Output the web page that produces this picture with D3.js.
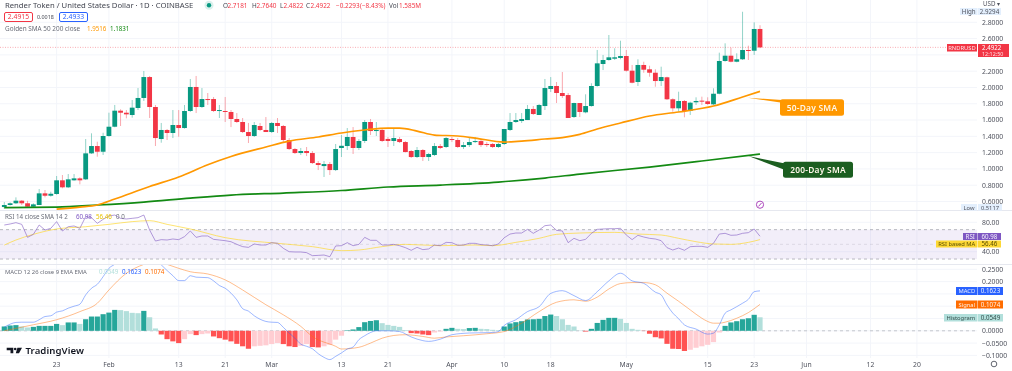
<!DOCTYPE html>
<html>
<head>
<meta charset="utf-8">
<title>RNDRUSD</title>
<script src="https://cdn.jsdelivr.net/npm/d3@7"></script>
<style>
  html, body { margin: 0; padding: 0; background: #fff; overflow: hidden; }
  svg { display: block; filter: blur(0.55px); }
  text { font-family: "Noto Sans", sans-serif; }
</style>
</head>
<body>
<svg id="chart" width="1012" height="371"></svg>
<script>
"use strict";

// daily candles, day 0 = Jan 14
const opens = [
  .532,.557,.578,.610,.578,.536,.557,.700,.671,.692,
  .860,.774,.860,.884,.872,1.191,1.281,1.211,1.404,1.518,
  1.715,1.690,1.662,1.748,1.871,2.128,1.760,1.367,1.478,1.441,
  1.539,1.502,1.711,2.006,1.760,1.858,1.858,1.711,1.711,1.699,
  1.613,1.576,1.453,1.404,1.527,1.478,1.453,1.564,1.527,1.355,
  1.244,1.195,1.220,1.195,1.072,1.035,1.060,.986,1.257,1.281,
  1.392,1.257,1.343,1.576,1.465,1.478,1.368,1.343,1.367,1.330,
  1.220,1.146,1.232,1.146,1.171,1.281,1.269,1.367,1.355,1.269,
  1.293,1.330,1.342,1.306,1.306,1.269,1.306,1.478,1.576,1.588,
  1.600,1.736,1.662,1.772,1.981,2.018,1.932,1.907,1.637,1.809,
  1.695,1.772,2.018,2.288,2.337,2.353,2.362,2.386,2.206,2.067,
  2.276,2.223,2.181,2.079,2.125,1.855,1.744,1.834,1.711,1.818,
  1.838,1.830,1.793,1.923,2.325,2.390,2.316,2.346,2.460,2.451,2.7181
];
const highs = [
  .593,.590,.651,.618,.609,.578,.753,.741,.720,.913,
  .925,.937,.937,.897,1.367,1.437,1.334,1.444,1.690,1.785,
  1.732,1.723,1.846,1.993,2.202,2.141,1.785,1.564,1.490,1.723,
  1.723,1.785,2.104,2.141,1.993,1.932,1.883,1.785,1.883,1.723,
  1.686,1.625,1.564,1.576,1.564,1.637,1.576,1.625,1.539,1.379,
  1.257,1.257,1.269,1.220,1.097,1.097,1.085,1.306,1.416,1.502,
  1.514,1.367,1.600,1.613,1.576,1.502,1.392,1.502,1.392,1.342,
  1.232,1.269,1.244,1.195,1.318,1.306,1.392,1.392,1.379,1.330,
  1.392,1.392,1.355,1.330,1.318,1.318,1.490,1.686,1.686,1.686,
  1.785,1.772,1.797,2.104,2.128,2.067,2.190,1.932,1.813,1.809,
  1.916,2.051,2.460,2.399,2.644,2.481,2.574,2.460,2.276,2.346,
  2.316,2.267,2.223,2.255,2.132,1.867,1.948,1.846,1.825,1.879,
  1.887,1.879,1.990,2.427,2.542,2.488,2.419,2.9294,2.513,2.800,2.7640
];
const lows = [
  .5117,.550,.569,.557,.528,.528,.557,.651,.659,.683,
  .762,.765,.855,.811,.864,1.183,1.150,1.171,1.395,1.511,
  1.527,1.621,1.629,1.723,1.834,1.625,1.281,1.322,1.355,1.379,
  1.395,1.494,1.699,1.686,1.748,1.785,1.699,1.625,1.576,1.514,
  1.564,1.441,1.318,1.392,1.465,1.453,1.441,1.441,1.330,1.232,
  1.183,1.171,1.158,1.060,.986,.901,.925,.974,1.146,1.232,
  1.183,1.232,1.318,1.416,1.404,1.330,1.269,1.281,1.318,1.203,
  1.134,1.134,1.097,1.097,1.158,1.244,1.257,1.330,1.257,1.244,
  1.269,1.318,1.269,1.269,1.257,1.257,1.293,1.465,1.564,1.564,
  1.600,1.662,1.662,1.723,1.944,1.809,1.871,1.625,1.625,1.637,
  1.683,1.764,2.009,2.214,2.329,2.337,2.346,2.194,2.051,2.018,
  2.181,2.132,2.009,2.018,1.846,1.702,1.702,1.634,1.662,1.785,
  1.785,1.785,1.785,1.916,2.316,2.309,2.309,2.337,2.337,2.399,2.4822
];
const closes = [
  .557,.578,.610,.578,.536,.565,.700,.671,.695,.860,
  .774,.872,.884,.860,1.191,1.281,1.211,1.404,1.518,1.715,
  1.690,1.670,1.752,1.871,2.128,1.760,1.379,1.478,1.441,1.539,
  1.502,1.711,2.006,1.760,1.858,1.846,1.711,1.723,1.699,1.613,
  1.576,1.453,1.404,1.539,1.478,1.453,1.564,1.527,1.355,1.244,
  1.195,1.220,1.195,1.072,1.048,1.060,.986,1.244,1.284,1.392,
  1.257,1.343,1.576,1.465,1.478,1.343,1.343,1.379,1.330,1.207,
  1.146,1.232,1.146,1.183,1.281,1.257,1.379,1.355,1.269,1.293,
  1.330,1.342,1.293,1.293,1.269,1.306,1.490,1.576,1.600,1.613,
  1.736,1.674,1.785,1.993,2.018,1.932,1.895,1.625,1.809,1.699,
  1.772,2.018,2.296,2.337,2.370,2.370,2.386,2.206,2.058,2.276,
  2.218,2.181,2.079,2.128,1.855,1.744,1.834,1.711,1.813,1.834,
  1.830,1.797,1.923,2.325,2.390,2.316,2.346,2.460,2.448,2.718,2.4922
];

// moving averages at these days
const sma50Days = [9,13,16,19,25,30,35,39,45,49,54,58,62,66,68,71,74,78,81,86,89,93,96,99,102,106,111,116,122,127,130];
const sma50Values = [.507,.532,.557,.630,.784,.900,1.051,1.152,1.269,1.342,1.392,1.441,1.478,1.502,1.502,1.465,1.416,1.404,1.379,1.330,1.342,1.367,1.385,1.425,1.490,1.564,1.650,1.699,1.772,1.883,1.9516];
const sma200Days = [0,9,16,24,32,39,48,58,66,75,85,93,99,111,120,130];
const sma200Values = [.526,.532,.557,.593,.642,.679,.704,.735,.778,.802,.839,.888,.937,1.023,1.097,1.1831];

const rsiValues = [
  76.3,77.7,79.5,77.2,59.5,63.6,76.3,69.5,71.8,80.9,
  68.2,74,75,71.8,87.7,86.3,78.6,84,88.6,89.9,
  85.4,84.5,85.4,86.3,89.9,69.5,54.5,56.4,55.9,57.3,
  56.4,60.5,68.2,59.5,61.4,61.4,56.8,55.9,55,53.6,
  50,46.9,45.9,50.5,49.1,49.1,52.3,51.4,44.6,40,
  39.6,39.6,38.7,34.6,35,35.5,33.2,47.8,48.2,52.3,
  48.2,50,59.5,55.5,55.5,49.1,49.1,50,48.2,45.5,
  41.9,45.9,42.8,43.7,49.1,48.2,52.7,52.3,48.7,49.1,
  51.4,51.4,49.6,49.1,48.2,50.5,59,64,65.4,65.4,
  70.4,65,69.5,75.4,76.3,69,68.2,52.3,58.2,55,
  56.8,65,70.4,70.9,71.3,71.3,71.8,62.7,56.4,62.3,
  60,58.2,57.3,55,45.5,42.3,45,41.9,46.8,47.3,
  47.3,45.9,51.4,64,65,62.3,62.7,65,65.9,70.9,60.98
];
const rsiMaDays = [0,2,5,9,14,18,22,25,28,32,38,47,53,58,61,65,69,75,81,84,88,92,95,99,105,109,113,116,119,122,125,128,130];
const rsiMaValues = [49,55.9,63.6,70.9,74,77.2,80.9,82.2,77.2,70.9,59.1,51.4,46.9,41.4,42.3,46.9,50,48.2,49.1,48.2,52.7,58.2,63.6,65.4,66.3,64,62.7,58.2,53.6,50.5,50,52.7,56.46];

const histValues = [
  .0176,.0216,.023,.0176,.0135,.016,.02,.02,.02,.028,
  .023,.034,.034,.028,.047,.058,.058,.0675,.074,.085,
  .084,.08,.073,.0716,.081,.055,.0095,-.015,-.034,-.043,
  -.05,-.034,-.0135,-.0175,-.0135,-.011,-.023,-.03,-.036,-.043,
  -.053,-.063,-.073,-.063,-.061,-.059,-.054,-.05,-.054,-.063,
  -.066,-.061,-.054,-.066,-.0675,-.063,-.057,-.036,-.02,.002,
  .0054,.015,.035,.04,.043,.031,.024,.02,.016,.003,
  -.0095,-.011,-.015,-.0175,-.007,-.003,.008,.012,.008,.007,
  .011,.012,.008,.007,.004,.003,.0175,.03,.035,.039,
  .046,.047,.0486,.06,.066,.06,.047,.024,.0175,.001,
  -.003,.008,.032,.0445,.0526,.0527,.0486,.032,.008,.004,
  -.001,-.012,-.026,-.031,-.053,-.073,-.074,-.082,-.077,-.069,
  -.063,-.057,-.046,-.007,.02,.034,.039,.047,.051,.065,.0549
];
const macdDays = [0,1,2,3,5,6,7,8,9,10,11,12,13,14,15,16,17,18,19,20,21,22,23,24,25,26,27,28,29,30,31,32,33,35,36,37,38,39,40,41,42,43,44,45,46,47,48,49,50,51,52,53,54,55,56,57,58,59,60,61,62,63,64,66,68,70,72,73,75,77,80,84,85,86,88,90,92,94,96,98,100,102,104,106,108,110,112,113,114,115,116,117,119,121,122,123,124,125,127,128,129,130];
const macdValues = [.015,.027,.034,.035,.035,.045,.058,.061,.076,.081,.092,.1,.108,.146,.173,.189,.22,.254,.27,.285,.30,.32,.345,.39,.39,.29,.268,.245,.224,.204,.204,.224,.218,.216,.203,.184,.173,.153,.126,.09,.08,.061,.047,.038,.035,.034,.014,-.009,-.03,-.054,-.063,-.073,-.093,-.108,-.117,-.104,-.09,-.074,-.066,-.036,-.02,-.007,0,0,-.003,-.025,-.04,-.043,-.034,-.016,-.009,-.007,-.003,.022,.045,.078,.098,.152,.163,.143,.123,.159,.203,.234,.203,.193,.157,.146,.105,.072,.049,.024,.007,-.0135,-.0095,.024,.0716,.085,.112,.128,.159,.1623];
const signalDays = [0,5,9,13,16,18,21,24,26,28,30,32,35,38,41,45,48,51,53,57,58,61,63,65,67,69,72,74,76,79,83,86,89,92,95,98,100,102,104,106,108,110,112,114,116,118,120,121,122,123,124,126,128,130];
const signalValues = [0,.0245,.045,.078,.112,.166,.234,.27,.285,.27,.254,.24,.231,.207,.166,.106,.065,.018,-.023,-.063,-.074,-.067,-.05,-.03,-.019,-.016,-.023,-.03,-.025,-.02,-.012,-.003,.031,.078,.116,.126,.12,.137,.17,.192,.196,.196,.187,.153,.12,.085,.051,.038,.031,.031,.035,.051,.074,.1074];

const tickDays = [9,18,30,38,46,58,66,77,86,94,107,121,129,138,149,157];
const tickLabels = ["23","Feb","13","21","Mar","13","21","Apr","10","18","May","15","23","Jun","12","20"];
const priceTicks = [2.8,2.6,2.2,2,1.8,1.6,1.4,1.2,1,.8,.6];
const rsiTicks = [80,40];
const macdTicks = [.25,.2,0,-.05,-.1];

const svg = d3.select("#chart");
const width = +svg.attr("width");
const plotRight = 977;

const x = d3.scaleLinear().domain([0, 130]).range([4.3, 760]);
const yPrice = d3.scaleLinear().domain([.6, 2.8]).range([201.5, 22.3]);
const yRsi = d3.scaleLinear().domain([40, 80]).range([251.7, 222.3]);
const yMacd = d3.scaleLinear().domain([-.1, .25]).range([355.4, 269.3]);

const UP = "#089981", DOWN = "#f23645";

const defs = svg.append("defs");
defs.append("clipPath").attr("id", "clipPrice").append("rect").attr("width", plotRight).attr("height", 210);
defs.append("clipPath").attr("id", "clipRsi").append("rect").attr("y", 211).attr("width", plotRight).attr("height", 53);
defs.append("clipPath").attr("id", "clipMacd").append("rect").attr("y", 265).attr("width", plotRight).attr("height", 100);

// grid
const grid = svg.append("g").attr("stroke", "#f3f5fa").attr("stroke-width", 1);
grid.selectAll(".v").data(tickDays).enter().append("line")
  .attr("x1", (d) => x(d)).attr("x2", (d) => x(d))
  .attr("y1", 0).attr("y2", 358);
grid.selectAll(".p").data(priceTicks.concat([2.4])).enter().append("line")
  .attr("x1", 0).attr("x2", plotRight)
  .attr("y1", (d) => yPrice(d)).attr("y2", (d) => yPrice(d));
grid.selectAll(".r").data(rsiTicks).enter().append("line")
  .attr("x1", 0).attr("x2", plotRight)
  .attr("y1", (d) => yRsi(d)).attr("y2", (d) => yRsi(d));
grid.selectAll(".m").data(macdTicks.concat([.15, .1, .05])).enter().append("line")
  .attr("x1", 0).attr("x2", plotRight)
  .attr("y1", (d) => yMacd(d)).attr("y2", (d) => yMacd(d));

// panel separators
svg.selectAll(".sep").data([210.5, 264.5]).enter().append("line")
  .attr("x1", 0).attr("x2", width)
  .attr("y1", (d) => d).attr("y2", (d) => d)
  .attr("stroke", "#e6e8ef");

// last price line
svg.append("line")
  .attr("x1", 0).attr("x2", plotRight)
  .attr("y1", yPrice(2.4922)).attr("y2", yPrice(2.4922))
  .attr("stroke", DOWN).attr("stroke-opacity", .4)
  .attr("stroke-dasharray", "1 1.5");

// candles
const days = d3.range(closes.length);
const gPrice = svg.append("g").attr("clip-path", "url(#clipPrice)");
gPrice.selectAll(".wick").data(days).enter().append("line")
  .attr("x1", (d) => x(d)).attr("x2", (d) => x(d))
  .attr("y1", (d) => yPrice(highs[d])).attr("y2", (d) => yPrice(lows[d]))
  .attr("stroke", (d) => closes[d] >= opens[d] ? UP : DOWN)
  .attr("stroke-opacity", .55)
  .attr("stroke-width", .8);
gPrice.selectAll(".body").data(days).enter().append("rect")
  .attr("x", (d) => x(d) - 2.4)
  .attr("width", 4.8)
  .attr("y", (d) => yPrice(Math.max(opens[d], closes[d])))
  .attr("height", (d) => Math.max(1, Math.abs(yPrice(opens[d]) - yPrice(closes[d]))))
  .attr("fill", (d) => closes[d] >= opens[d] ? UP : DOWN);

const sparseLine = (yScale, dayList) => d3.line()
  .x((d, i) => x(dayList[i]))
  .y((d) => yScale(d))
  .curve(d3.curveMonotoneX);

gPrice.append("path")
  .attr("d", sparseLine(yPrice, sma200Days)(sma200Values))
  .attr("fill", "none").attr("stroke", "#138a13").attr("stroke-width", 1.7);
gPrice.append("path")
  .attr("d", sparseLine(yPrice, sma50Days)(sma50Values))
  .attr("fill", "none").attr("stroke", "#ff9800").attr("stroke-width", 1.7);

// callouts on the two averages
function callout(tipDay, tipPrice, wedge, box, fill, label) {
  svg.append("polygon")
    .attr("points", [[x(tipDay), yPrice(tipPrice)]].concat(wedge).join(" "))
    .attr("fill", fill);
  svg.append("rect")
    .attr("x", box[0]).attr("y", box[1])
    .attr("width", box[2]).attr("height", box[3])
    .attr("rx", 2.5).attr("fill", fill);
  svg.append("text")
    .attr("x", box[0] + box[2] / 2).attr("y", box[1] + box[3] / 2 + 3.1)
    .attr("text-anchor", "middle")
    .attr("font-size", 8.4).attr("font-weight", 600)
    .attr("letter-spacing", .25)
    .attr("fill", "#fff7ea")
    .text(label);
}
callout(127.9, 1.875, [[782, 100], [782, 102.8]], [780, 99.3, 64, 16.4], "#ff9800", "50-Day SMA");
callout(128, 1.158, [[785, 163.5], [785, 170]], [783, 161.7, 70, 16], "#1b5e20", "200-Day SMA");

// RSI panel
const gRsi = svg.append("g").attr("clip-path", "url(#clipRsi)");
gRsi.append("rect")
  .attr("x", 0).attr("width", plotRight)
  .attr("y", yRsi(70)).attr("height", yRsi(30) - yRsi(70))
  .attr("fill", "#7e57c2").attr("fill-opacity", .1);
gRsi.selectAll(".band").data([70, 50, 30]).enter().append("line")
  .attr("x1", 0).attr("x2", plotRight)
  .attr("y1", (d) => yRsi(d)).attr("y2", (d) => yRsi(d))
  .attr("stroke", "#787b86")
  .attr("stroke-opacity", (d) => d === 50 ? .18 : .5)
  .attr("stroke-dasharray", "3 3");
gRsi.append("path")
  .attr("d", sparseLine(yRsi, rsiMaDays)(rsiMaValues))
  .attr("fill", "none").attr("stroke", "#fdd835").attr("stroke-opacity", .7);
gRsi.append("path")
  .attr("d", d3.line().x((d, i) => x(i)).y((d) => yRsi(d))(rsiValues))
  .attr("fill", "none").attr("stroke", "#7e57c2").attr("stroke-opacity", .65).attr("stroke-width", .9);

// MACD panel
const gMacd = svg.append("g").attr("clip-path", "url(#clipMacd)");
gMacd.append("line")
  .attr("x1", 0).attr("x2", plotRight)
  .attr("y1", yMacd(0)).attr("y2", yMacd(0))
  .attr("stroke", "#787b86").attr("stroke-opacity", .4)
  .attr("stroke-dasharray", "3 3");

function histColor(d, i) {
  const prev = i > 0 ? histValues[i - 1] : d;
  if (d >= 0) return d >= prev ? "#26a69a" : "#b2dfdb";
  return d < prev ? "#ff5252" : "#ffcdd2";
}
gMacd.selectAll(".hist").data(histValues).enter().append("rect")
  .attr("x", (d, i) => x(i) - 2.6)
  .attr("width", 5.2)
  .attr("y", (d) => Math.min(yMacd(d), yMacd(0)))
  .attr("height", (d) => Math.abs(yMacd(d) - yMacd(0)))
  .attr("fill", histColor);
gMacd.append("path")
  .attr("d", sparseLine(yMacd, signalDays)(signalValues))
  .attr("fill", "none").attr("stroke", "#ff6d00").attr("stroke-opacity", .5).attr("stroke-width", .9);
gMacd.append("path")
  .attr("d", sparseLine(yMacd, macdDays)(macdValues))
  .attr("fill", "none").attr("stroke", "#2962ff").attr("stroke-opacity", .5).attr("stroke-width", .9);

// axis labels on the right
const axisColor = "#50535e";
function axisLabels(cls, ticks, scale, digits) {
  svg.selectAll("." + cls).data(ticks).enter().append("text")
    .attr("class", cls)
    .attr("x", 982).attr("y", (d) => scale(d) + 2.4)
    .attr("font-size", 6.8).attr("fill", axisColor)
    .text((d) => d.toFixed(digits).replace("-", "\u2212"));
}
axisLabels("tp", priceTicks, yPrice, 4);
axisLabels("tr", rsiTicks, yRsi, 2);
axisLabels("tm", macdTicks, yMacd, 4);

svg.selectAll(".td").data(tickDays).enter().append("text")
  .attr("class", "td")
  .attr("x", (d) => x(d)).attr("y", 366.5)
  .attr("text-anchor", "middle")
  .attr("font-size", 6.8).attr("fill", axisColor)
  .text((d, i) => tickLabels[i]);

function tag(x0, y0, w, h, fill, color, label, size) {
  svg.append("rect").attr("x", x0).attr("y", y0).attr("width", w).attr("height", h).attr("fill", fill);
  svg.append("text")
    .attr("x", x0 + w / 2).attr("y", y0 + h / 2 + 2.2)
    .attr("text-anchor", "middle")
    .attr("font-size", size || 6.2).attr("fill", color)
    .text(label);
}

svg.append("text").attr("x", 983).attr("y", 6.3).attr("font-size", 6.2).attr("fill", axisColor).text("USD \u25be");
tag(960, 8, 17.5, 7, "#e3effd", axisColor, "High");
tag(978, 8, 23, 7, "#e3effd", axisColor, "2.9294");
tag(947, 44, 30, 7.5, DOWN, "#ffe3e5", "RNDRUSD", 5.8);
svg.append("rect").attr("x", 978).attr("y", 44).attr("width", 31).attr("height", 13).attr("fill", DOWN);
svg.append("text").attr("x", 982).attr("y", 49.6).attr("font-size", 6.2).attr("fill", "#fff").text("2.4922");
svg.append("text").attr("x", 982).attr("y", 55.8).attr("font-size", 5.4).attr("fill", "#ffe3e5").text("12:12:50");
tag(961, 204, 16, 6.6, "#e3effd", axisColor, "Low", 5.8);
tag(978, 204, 24, 6.6, "#e3effd", axisColor, "0.5117", 5.8);

tag(963, 233, 14.5, 7, "#7e57c2", "#f3eefc", "RSI");
tag(978, 233, 23, 7, "#7e57c2", "#f3eefc", "60.98");
tag(936, 240.5, 41.5, 7, "#fdd835", "#5c5000", "RSI based MA", 5.8);
tag(978, 240.5, 23, 7, "#fdd835", "#5c5000", "56.46");

tag(956, 287, 21.5, 8, "#2962ff", "#e8eeff", "MACD", 5.8);
tag(978, 287, 25, 8, "#2962ff", "#e8eeff", "0.1623");
tag(956, 300.5, 21.5, 8, "#ff6d00", "#fff0e5", "Signal", 5.8);
tag(978, 300.5, 25, 8, "#ff6d00", "#fff0e5", "0.1074");
tag(944, 314, 33.5, 7.5, "#b2dfdb", "#35504e", "Histogram", 5.8);
tag(978, 314, 25, 7.5, "#b2dfdb", "#35504e", "0.0549");

// legends
function legend(yPos, parts) {
  parts.forEach((p) => {
    svg.append("text")
      .attr("x", p[0]).attr("y", yPos)
      .attr("font-size", p[3] || 6.4)
      .attr("fill", p[2])
      .text(p[1]);
  });
}
legend(8.3, [
  [5, "Render Token / United States Dollar \u00b7 1D \u00b7 COINBASE", "#434651", 7.7],
  [223, "O", "#434651"], [227.5, "2.7181", DOWN],
  [252, "H", "#434651"], [256.5, "2.7640", DOWN],
  [280, "L", "#434651"], [283.5, "2.4822", DOWN],
  [306, "C", "#434651"], [310.5, "2.4922", DOWN],
  [336, "\u22120.2293", DOWN],
  [360, "(\u22128.43%)", DOWN],
  [389, "Vol", "#434651"], [399, "1.585M", DOWN]
]);
svg.append("circle").attr("cx", 209).attr("cy", 5.3).attr("r", 4.5).attr("fill", UP).attr("fill-opacity", .15);
svg.append("circle").attr("cx", 209).attr("cy", 5.3).attr("r", 2.2).attr("fill", UP);

svg.append("rect").attr("x", 4.5).attr("y", 12.5).attr("width", 28).attr("height", 9).attr("rx", 1.5)
  .attr("fill", "#fff").attr("stroke", DOWN);
svg.append("text").attr("x", 18.5).attr("y", 19.3).attr("text-anchor", "middle")
  .attr("font-size", 6.8).attr("fill", DOWN).text("2.4915");
svg.append("text").attr("x", 37).attr("y", 19).attr("font-size", 5.4).attr("fill", "#434651").text("0.0018");
svg.append("rect").attr("x", 59.5).attr("y", 12.5).attr("width", 28).attr("height", 9).attr("rx", 1.5)
  .attr("fill", "#fff").attr("stroke", "#2962ff");
svg.append("text").attr("x", 73.5).attr("y", 19.3).attr("text-anchor", "middle")
  .attr("font-size", 6.8).attr("fill", "#2962ff").text("2.4933");

legend(30.5, [
  [5, "Golden SMA 50 200 close", "#6a6d78", 6.4],
  [87, "1.9516", "#ff9800", 6.2],
  [110, "1.1831", "#138a13", 6.2]
]);
legend(219, [
  [5, "RSI 14 close SMA 14 2", "#6a6d78", 6.2],
  [76, "60.98", "#7e57c2", 6.2],
  [96, "56.46", "#e8c200", 6.2],
  [116, "0 0", "#6a6d78", 6.2]
]);
legend(273.5, [
  [5, "MACD 12 26 close 9 EMA EMA", "#6a6d78", 5.9],
  [99, "0.0549", "#b2dfdb", 6.2],
  [122, "0.1623", "#2962ff", 6.2],
  [145, "0.1074", "#ff6d00", 6.2]
]);

// TradingView mark
const logo = svg.append("g").attr("fill", "#131722");
logo.append("path").attr("d", "M6.7 347.7h6.6v5.6h-2.8v-3h-3.8z");
logo.append("circle").attr("cx", 15.2).attr("cy", 349).attr("r", 1.3);
logo.append("path").attr("d", "M17.4 347.7h4.6l-3 5.6h-3.2z");
logo.append("text").attr("x", 25.5).attr("y", 354)
  .attr("font-size", 9.6).attr("font-weight", 600).attr("letter-spacing", .1)
  .text("TradingView");

// small marker under the last candles
svg.append("circle").attr("cx", 760).attr("cy", 204.7).attr("r", 3.6)
  .attr("fill", "#fff").attr("stroke", "#ab47bc");
svg.append("path").attr("d", "M761.5 203l-3 3.4").attr("stroke", "#ab47bc");

// settings glyph in the corner
svg.append("circle").attr("cx", 994).attr("cy", 364).attr("r", 2.8)
  .attr("fill", "none").attr("stroke", axisColor).attr("stroke-width", .9);
</script>
</body>
</html>
